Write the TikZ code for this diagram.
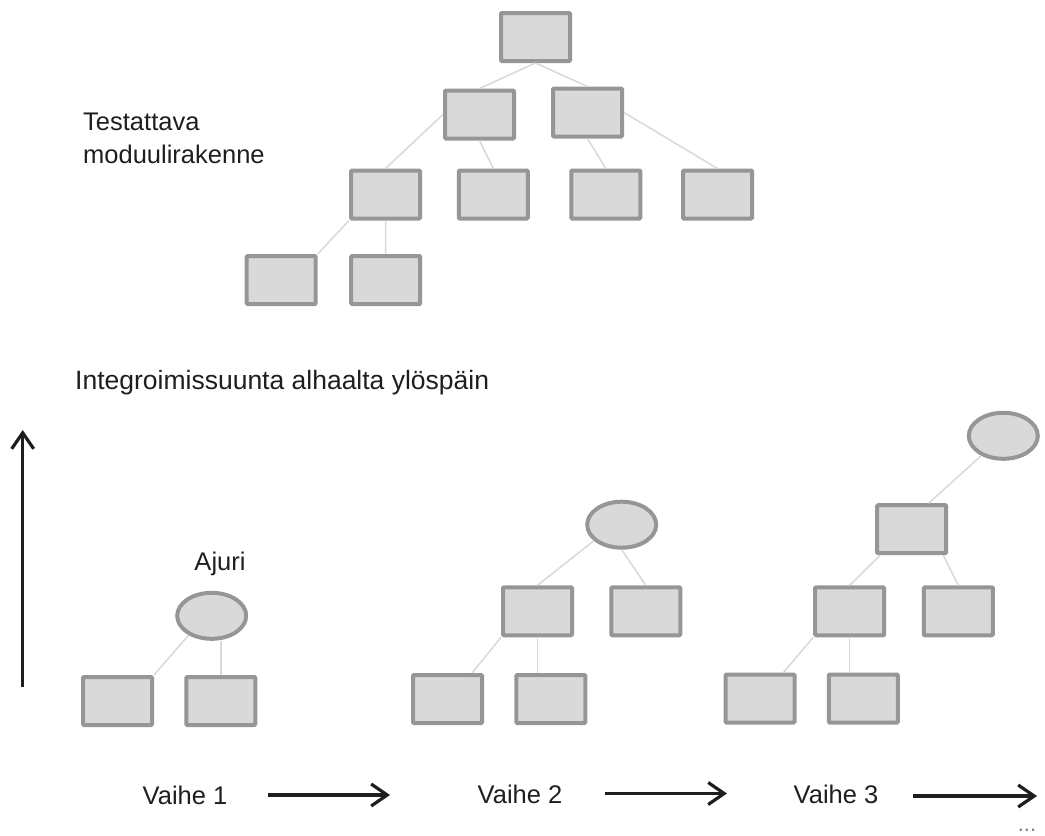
\documentclass[tikz,border=0pt]{standalone}
\usepackage{fontspec}
\setmainfont{Liberation Sans}
\usetikzlibrary{shapes.geometric,arrows.meta}

\definecolor{boxfill}{RGB}{217,217,217}
\definecolor{boxline}{RGB}{150,150,150}
\definecolor{linkline}{RGB}{216,216,216}
\definecolor{txt}{RGB}{30,30,30}

\tikzset{
  module/.style={draw=boxline, fill=boxfill, line width=4pt, rounded corners=1pt,
    minimum width=69pt, minimum height=48pt, inner sep=0pt},
  driver/.style={ellipse, draw=boxline, fill=boxfill, line width=4pt,
    minimum width=69pt, minimum height=46pt, inner sep=0pt},
  link/.style={draw=linkline, line width=1.5pt},
  label/.style={text=txt, inner sep=0pt, font=\fontsize{25.5}{31}\selectfont},
  flow/.style={draw=txt, line width=3.3pt, -{Straight Barb[length=16pt, width=22pt, line width=3.2pt]}},
}

\begin{document}
\begin{tikzpicture}[x=1pt, y=-1pt]
\useasboundingbox (0,0) rectangle (1045,836);

% module hierarchy under test
\node[module] (R)  at (535.5, 37)    {};
\node[module] (A)  at (479.5, 114.5) {};
\node[module] (B)  at (587.5, 112.5) {};
\node[module] (C1) at (385.5, 194.5) {};
\node[module] (C2) at (493.3, 194.5) {};
\node[module] (C3) at (605.8, 194.5) {};
\node[module] (C4) at (717.5, 194.5) {};
\node[module] (D1) at (281.2, 280)   {};
\node[module] (D2) at (385.7, 280)   {};

\draw[link] (R.south) -- (A.north);
\draw[link] (R.south) -- (B.north);
\draw[link] (A.west) -- (C1.north);
\draw[link] (A.south) -- (C2.north);
\draw[link] (B.south) -- (C3.north);
\draw[link] (B.east) -- (C4.north);
\draw[link] (C1.south west) -- (D1.north east);
\draw[link] (C1.south) -- (D2.north);

\node[label, anchor=base west] (t1) at (83, 130) {Testattava};
\node[label, anchor=base west] (t2) at (83, 163) {moduulirakenne};

\node[label, anchor=base west, font=\fontsize{26.5}{31}\selectfont] (dir) at (75, 389)
  {Integroimissuunta alhaalta ylöspäin};

% upward direction arrow
\coordinate (up0) at (22.7, 687);
\coordinate (up1) at (22.7, 430);
\draw[flow] (up0) -- (up1);

% stage 1
\node[driver] (E1)  at (211.7, 615.8) {};
\node[module] (S1a) at (117.5, 701)   {};
\node[module] (S1b) at (220.8, 701)   {};
\node[label, anchor=base] (ajuri) at (220, 570) {Ajuri};
\draw[link] (E1.-140) -- (S1a.north east);
\draw[link] (S1b.north |- E1.south) -- (S1b.north);

% stage 2
\node[driver] (E2)  at (621.7, 524.7) {};
\node[module] (T2a) at (537.5, 611.3) {};
\node[module] (T2b) at (645.8, 611.3) {};
\node[module] (U2a) at (447.5, 699)   {};
\node[module] (U2b) at (550.8, 699)   {};
\draw[link] (E2.-150) -- (T2a.north);
\draw[link] (E2.south) -- (T2b.north);
\draw[link] (T2a.south west) -- ([xshift=-12pt]U2a.north east);
\draw[link] (T2a.south) -- (T2a.south |- U2b.north);

% stage 3
\node[driver] (E3)  at (1003.3, 435.8) {};
\node[module] (V3)  at (911.7, 529.2)  {};
\node[module] (W3a) at (849.7, 611.3)  {};
\node[module] (W3b) at (958.3, 611.3)  {};
\node[module] (X3a) at (760, 698.5)    {};
\node[module] (X3b) at (863.3, 698.5)  {};
\draw[link] (E3.-138) -- ([xshift=17pt]V3.north);
\draw[link] ([xshift=5pt]V3.south west) -- (W3a.north);
\draw[link] ([xshift=-5pt]V3.south east) -- (W3b.north);
\draw[link] (W3a.south west) -- ([xshift=-13pt]X3a.north east);
\draw[link] (W3a.south) -- (W3a.south |- X3b.north);

% stage captions and progress arrows
\node[label, anchor=base] (v1) at (185, 804) {Vaihe 1};
\node[label, anchor=base] (v2) at (520, 803) {Vaihe 2};
\node[label, anchor=base] (v3) at (836, 803) {Vaihe 3};

\coordinate (a1s) at (268, 795);   \coordinate (a1e) at (390, 795);
\coordinate (a2s) at (605, 793.5); \coordinate (a2e) at (727, 793.5);
\coordinate (a3s) at (913, 796);   \coordinate (a3e) at (1037, 796);
\draw[flow] (a1s) -- (a1e);
\draw[flow] (a2s) -- (a2e);
\draw[flow] (a3s) -- (a3e);

\node[text=gray, inner sep=0pt, anchor=base, font=\fontsize{22}{26}\selectfont] (more) at (1027, 831) {...};
\end{tikzpicture}
\end{document}
